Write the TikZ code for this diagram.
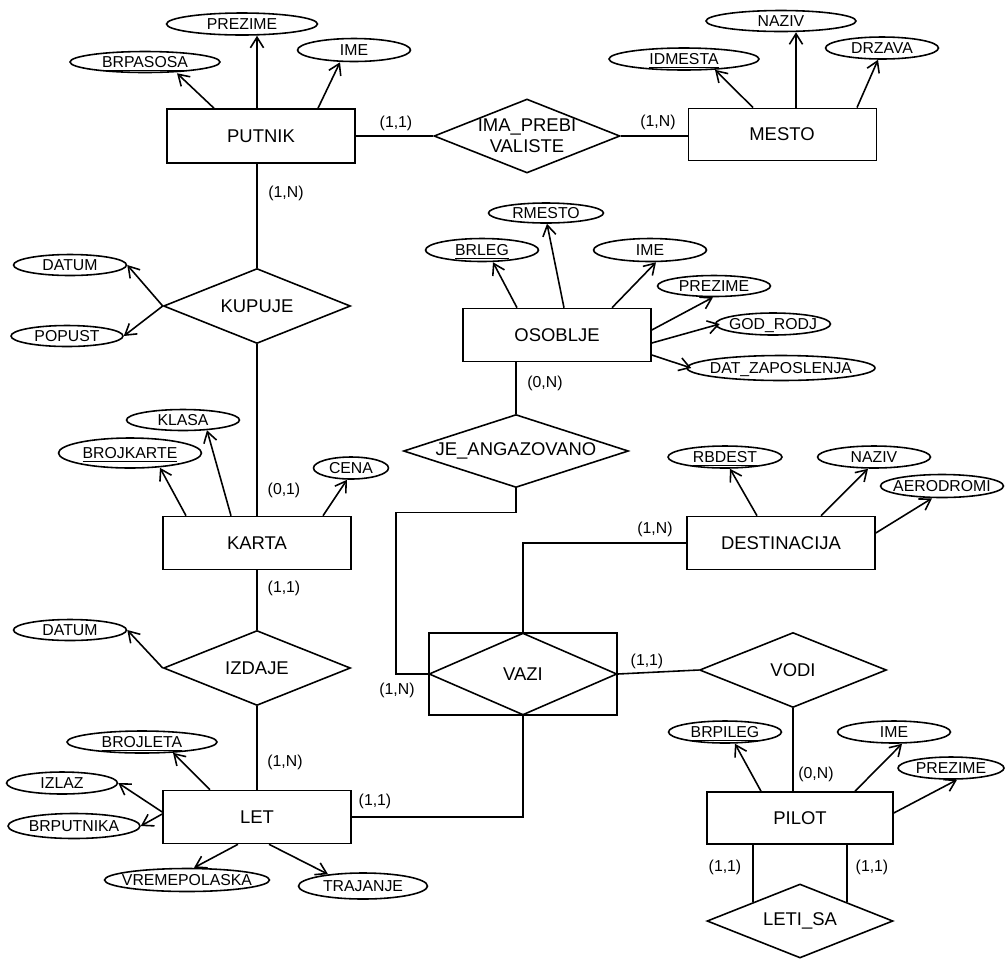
\documentclass[tikz,border=0pt]{standalone}
\usepackage{fontspec}
\setmainfont{Liberation Sans}
\usetikzlibrary{shapes.geometric, arrows.meta}

\begin{document}
\begin{tikzpicture}[x=0.02cm, y=-0.02cm, line width=0.9pt, >={Straight Barb[length=6pt, width=7.5pt]}]
        \tikzstyle{ent} = [draw, rectangle, minimum width=3.76cm, minimum height=1.06cm, inner sep=0pt, font=\fontsize{10.5}{12}\selectfont]
        \tikzstyle{rel} = [draw, diamond, aspect=3, inner xsep=-10pt, inner ysep=-2pt, minimum width=3.74cm, minimum height=1.5cm, align=center, font=\fontsize{10.5}{12}\selectfont]
        \tikzstyle{attr} = [draw, ellipse, minimum width=2.26cm, minimum height=0.44cm, inner xsep=-4pt, inner ysep=0pt, text height=6.4pt, text depth=0pt, font=\fontsize{9}{10}\selectfont]
        \tikzstyle{card} = [inner sep=0pt, font=\fontsize{9}{10}\selectfont]
        \useasboundingbox (0,0) rectangle (1005,958);

        % entiteti
        \node[ent, minimum height=1.08cm] (putnik) at (261,136) {PUTNIK};
        \node[ent, line width=0.5pt, minimum height=1.04cm] (mesto) at (782,134) {MESTO};
        \node[ent] (karta) at (257,543) {KARTA};
        \node[ent] (let) at (257,817) {LET};
        \node[ent] (osoblje) at (557,335) {OSOBLJE};
        \node[ent] (destinacija) at (781,543) {DESTINACIJA};
        \node[ent, minimum width=3.72cm, minimum height=1.04cm] (pilot) at (800,818) {PILOT};
        \node[ent, minimum height=1.64cm] (vazibox) at (523,674) {};

        % veze
        \node[rel, minimum width=3.72cm, minimum height=1.48cm] (imaprebi) at (527,136) {IMA\_PREBI\\VALISTE};
        \node[rel] (kupuje) at (257,306) {KUPUJE};
        \node[rel] (izdaje) at (257,668) {IZDAJE};
        \node[rel, minimum width=4.5cm, minimum height=1.46cm] (jeang) at (516,451) {JE\_ANGAZOVANO};
        \node[rel, minimum width=3.76cm, minimum height=1.64cm] (vazi) at (vazibox) {VAZI};
        \node[rel] (vodi) at (793,670) {VODI};
        \node[rel, minimum width=3.72cm, minimum height=1.48cm] (letisa) at (800,921) {LETI\_SA};

        % atributi
        \node[attr, minimum width=3cm, minimum height=0.42cm] (brpasosa) at (145,62) {\underline{BRPASOSA}};
        \node[attr, minimum width=3.02cm] (prezime1) at (242,24) {PREZIME};
        \node[attr, minimum height=0.46cm] (ime1) at (354,50) {IME};
        \node[attr, minimum width=3cm] (idmesta) at (684,59) {\underline{IDMESTA}};
        \node[attr, minimum width=3cm, minimum height=0.42cm] (naziv1) at (781,21) {NAZIV};
        \node[attr] (drzava) at (882,48) {DRZAVA};
        \node[attr, minimum height=0.42cm] (datum1) at (70,265) {DATUM};
        \node[attr, minimum width=2.24cm, minimum height=0.42cm] (popust) at (67,336) {POPUST};
        \node[attr, minimum width=2.86cm, minimum height=0.6cm] (brojkarte) at (130,453) {\underline{BROJKARTE}};
        \node[attr, minimum height=0.42cm] (klasa) at (183,420) {KLASA};
        \node[attr, minimum width=1.5cm] (cena) at (351,468) {CENA};
        \node[attr, minimum height=0.42cm] (datum2) at (70,630) {DATUM};
        \node[attr, minimum width=3cm] (brojleta) at (142,742) {\underline{BROJLETA}};
        \node[attr, minimum width=2.22cm] (izlaz) at (62,783) {IZLAZ};
        \node[attr, minimum width=2.64cm, minimum height=0.5cm] (brputnika) at (74,826) {BRPUTNIKA};
        \node[attr, minimum width=3.3cm, minimum height=0.46cm] (vremepolaska) at (187,880) {VREMEPOLASKA};
        \node[attr, minimum width=2.58cm, minimum height=0.52cm] (trajanje) at (363,886) {TRAJANJE};
        \node[attr, minimum height=0.46cm] (brleg) at (482,250) {\underline{BRLEG}};
        \node[attr, minimum width=2.3cm, minimum height=0.4cm] (rmesto) at (546,213) {RMESTO};
        \node[attr, minimum height=0.46cm] (ime2) at (650,250) {IME};
        \node[attr, minimum height=0.42cm] (prezime2) at (714,286) {PREZIME};
        \node[attr, minimum width=2.3cm] (godrodj) at (773,324) {GOD\_RODJ};
        \node[attr, minimum width=3.76cm, minimum height=0.5cm] (datzap) at (781,368) {DAT\_ZAPOSLENJA};
        \node[attr, minimum width=2.28cm] (rbdest) at (725,457) {\underline{RBDEST}};
        \node[attr] (naziv2) at (874,457) {NAZIV};
        \node[attr, minimum width=2.46cm, minimum height=0.46cm] (aerodromi) at (942,486) {AERODROMI};
        \node[attr] (brpileg) at (725,732) {\underline{BRPILEG}};
        \node[attr] (ime3) at (894,732) {IME};
        \node[attr, minimum width=2.12cm] (prezime3) at (951,768) {PREZIME};

        % kardinalnosti
        \node[card] (c1) at (396,123) {(1,1)};
        \node[card] (c2) at (658,122) {(1,N)};
        \node[card] (c3) at (286,193) {(1,N)};
        \node[card] (c4) at (284,490) {(0,1)};
        \node[card] (c5) at (284,588) {(1,1)};
        \node[card] (c6) at (285,762) {(1,N)};
        \node[card] (c7) at (375,801) {(1,1)};
        \node[card] (c8) at (545,383) {(0,N)};
        \node[card] (c9) at (655,529) {(1,N)};
        \node[card] (c10) at (397,690) {(1,N)};
        \node[card] (c11) at (647,661) {(1,1)};
        \node[card] (c12) at (816,774) {(0,N)};
        \node[card] (c13) at (725,867) {(1,1)};
        \node[card] (c14) at (872,867) {(1,1)};

        % linije veza
        \draw (putnik.east) -- (imaprebi.west);
        \draw (imaprebi.east) -- (imaprebi.east -| mesto.west);
        \draw (kupuje.north) -- (kupuje.north |- putnik.south);
        \draw (kupuje.south) -- (karta.north);
        \draw (karta.south) -- (izdaje.north);
        \draw (izdaje.south) -- (let.north);
        \draw (jeang.north) -- (jeang.north |- osoblje.south);
        \draw (jeang.south) -- ++(0,24) -- ++(-120,0) |- (vazi.west);
        \draw (destinacija.west) -| (vazi.north);
        \draw (vazi.south) |- (let.east);
        \draw (vazi.east) -- (vodi.west);
        \draw (vodi.south) -- (vodi.south |- pilot.north);
        \draw (letisa.north west) -- (letisa.north west |- pilot.south);
        \draw (letisa.north east) -- (letisa.north east |- pilot.south);

        % atributi - strelice
        \draw[->] ([shift={(-47,0)}]putnik.north) -- ([shift={(32,0)}]brpasosa.south);
        \draw[->] ([shift={(-4,0)}]putnik.north) -- ([shift={(15,0)}]prezime1.south);
        \draw[->] ([shift={(57,0)}]putnik.north) -- ([shift={(-14,0)}]ime1.south);
        \draw[->] ([shift={(-29,0)}]mesto.north) -- ([shift={(31,-1)}]idmesta.south);
        \draw[->] ([shift={(14,0)}]mesto.north) -- ([shift={(15,0)}]naziv1.south);
        \draw[->] ([shift={(75,0)}]mesto.north) -- ([shift={(-4,0)}]drzava.south);
        \draw[->] (kupuje.west) -- (datum1.east);
        \draw[->] (kupuje.west) -- (popust.east);
        \draw[->] ([shift={(-71,0)}]karta.north) -- ([shift={(30,-1)}]brojkarte.south);
        \draw[->] ([shift={(-26,0)}]karta.north) -- ([shift={(24,-1)}]klasa.south);
        \draw[->] ([shift={(66,0)}]karta.north) -- ([shift={(-4,0)}]cena.south);
        \draw[->] (izdaje.west) -- (datum2.east);
        \draw[->] ([shift={(-47,0)}]let.north) -- ([shift={(31,-1)}]brojleta.south);
        \draw[->] ([shift={(0,-5)}]let.west) -- (izlaz.east);
        \draw[->] ([shift={(0,-3)}]let.west) -- (brputnika.east);
        \draw[->] ([shift={(-19,0)}]let.south) -- ([shift={(7,0)}]vremepolaska.north);
        \draw[->] ([shift={(12,0)}]let.south) -- ([shift={(-35,2)}]trajanje.north);
        \draw[->] ([shift={(-40,0)}]osoblje.north) -- ([shift={(11,0)}]brleg.south);
        \draw[->] ([shift={(7,0)}]osoblje.north) -- ([shift={(1,0)}]rmesto.south);
        \draw[->] ([shift={(55,0)}]osoblje.north) -- ([shift={(6,0)}]ime2.south);
        \draw[->] ([shift={(0,-5)}]osoblje.east) -- ([shift={(-1,0)}]prezime2.south);
        \draw[->] ([shift={(0,8)}]osoblje.east) -- ([shift={(5,0)}]godrodj.west);
        \draw[->] ([shift={(0,20)}]osoblje.east) -- ([shift={(5,0)}]datzap.west);
        \draw[->] ([shift={(-24,0)}]destinacija.north) -- ([shift={(5,0)}]rbdest.south);
        \draw[->] ([shift={(40,0)}]destinacija.north) -- ([shift={(-6,0)}]naziv2.south);
        \draw[->] ([shift={(0,-10)}]destinacija.east) -- ([shift={(-10,0)}]aerodromi.south);
        \draw[->] ([shift={(-39,0)}]pilot.north) -- ([shift={(10,0)}]brpileg.south);
        \draw[->] ([shift={(55,0)}]pilot.north) -- ([shift={(8,0)}]ime3.south);
        \draw[->] ([shift={(0,-5)}]pilot.east) -- ([shift={(6,0)}]prezime3.south);
      \end{tikzpicture}
\end{document}
